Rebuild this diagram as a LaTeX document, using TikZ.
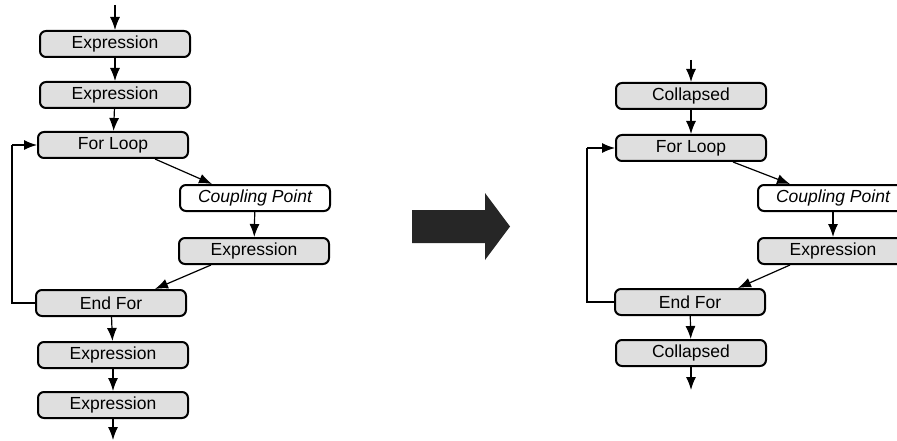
\documentclass[tikz,border=0pt]{standalone}
\usepackage{fontspec}
\setmainfont{Liberation Sans}
\usetikzlibrary{arrows.meta}
\begin{document}
\begin{tikzpicture}[x=1pt,y=-1pt,
  box/.style={draw, line width=2pt, rounded corners=6pt, fill=gray!25,
    minimum width=150pt, minimum height=26pt, inner sep=0pt,
    font=\fontsize{17.5}{20}\selectfont},
  cpbox/.style={box, fill=white, font=\fontsize{17.5}{20}\selectfont\itshape},
  arr/.style={line width=1.2pt, -{Latex[length=13pt,width=10pt]}},
  ln/.style={line width=1.2pt}]
\useasboundingbox (0,0) rectangle (897,441);
% left flow
\node[box] (e1) at (115,44) {Expression};
\node[box] (e2) at (115,95) {Expression};
\node[box] (fl) at (113,145) {For Loop};
\node[cpbox] (cp) at (255,198) {Coupling Point};
\node[box] (ex) at (254,251) {Expression};
\node[box] (ef) at (111,303) {End For};
\node[box] (e3) at (113,355) {Expression};
\node[box] (e4) at (113,405) {Expression};
\coordinate (tin) at (115,5);
\coordinate (bout) at (113,440);
\coordinate (lx) at (12,0);
\draw[arr] (tin) -- (e1);
\draw[arr] (e1) -- (e2);
\draw[arr] (e2) -- (fl);
\draw[arr] ([xshift=-34pt]fl.south east) -- ([xshift=33pt]cp.north west);
\draw[arr] (cp) -- (ex);
\draw[arr] ([xshift=33pt]ex.south west) -- ([xshift=-32pt]ef.north east);
\draw[ln] (ef.west) -- (ef.west -| lx) -- (fl.west -| lx);
\draw[arr] (fl.west -| lx) -- (fl.west);
\draw[arr] (ef) -- (e3);
\draw[arr] (e3) -- (e4);
\draw[arr] (e4) -- (bout);
% big arrow
\fill[black!85] (412,210) -- (485,210) -- (485,193) -- (510,226.5) -- (485,260) -- (485,243) -- (412,243) -- cycle;
% right flow
\node[box] (c1) at (691,96) {Collapsed};
\node[box] (fr) at (691,148) {For Loop};
\node[cpbox] (cp2) at (833,198) {Coupling Point};
\node[box] (ex2) at (833,251) {Expression};
\node[box] (ef2) at (690,302) {End For};
\node[box] (c2) at (691,353) {Collapsed};
\coordinate (tin2) at (691,60);
\coordinate (bout2) at (691,390);
\coordinate (lx2) at (587,0);
\draw[arr] (tin2) -- (c1);
\draw[arr] (c1) -- (fr);
\draw[arr] ([xshift=-34pt]fr.south east) -- ([xshift=33pt]cp2.north west);
\draw[arr] (cp2) -- (ex2);
\draw[arr] ([xshift=33pt]ex2.south west) -- ([xshift=-28pt]ef2.north east);
\draw[ln] (ef2.west) -- (ef2.west -| lx2) -- (fr.west -| lx2);
\draw[arr] (fr.west -| lx2) -- (fr.west);
\draw[arr] (ef2) -- (c2);
\draw[arr] (c2) -- (bout2);
\end{tikzpicture}
\end{document}
